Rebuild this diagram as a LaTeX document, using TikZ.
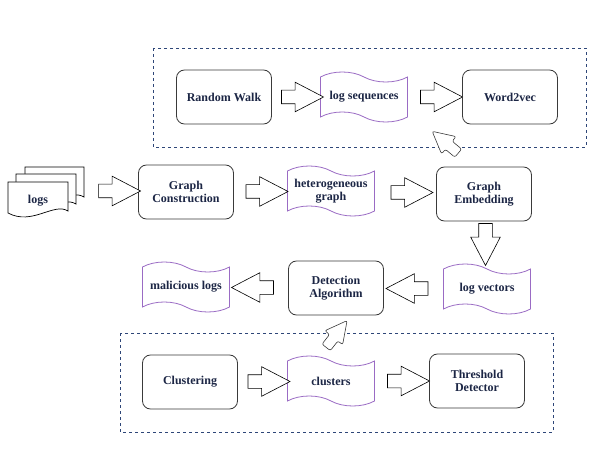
\documentclass[tikz,border=0pt]{standalone}
\usepackage{fontspec}
\setmainfont{Liberation Serif}
\usetikzlibrary{positioning,calc,shapes.symbols,shapes.arrows}
\definecolor{inkblue}{HTML}{1C2645}
\definecolor{framenavy}{HTML}{2E4678}
\definecolor{tapepurple}{HTML}{9A6BC4}
\definecolor{boxgray}{HTML}{3A3A3A}

\tikzset{
  procbox/.style={draw=boxgray, line width=0.8pt, rounded corners=8pt, fill=white,
    minimum width=95pt, minimum height=54pt, align=center, text=inkblue,
    font=\fontsize{12}{13}\selectfont\bfseries},
  tapebox/.style={tape, draw=tapepurple, line width=0.8pt, fill=white,
    tape bend top=out and in, tape bend bottom=out and in, tape bend height=10pt,
    minimum width=87pt, minimum height=50pt, align=center, text=inkblue, inner sep=1pt,
    font=\fontsize{12}{13}\selectfont\bfseries},
  blockarrow/.style={single arrow, draw=black, line width=0.6pt, fill=white,
    minimum height=42pt, minimum width=29pt, inner sep=6.5pt,
    single arrow head extend=8pt, single arrow tip angle=55},
  smallarrow/.style={blockarrow, minimum height=34pt, minimum width=22pt, inner sep=5pt,
    single arrow head extend=6pt, rounded corners=2pt, draw=boxgray},
  groupframe/.style={draw=framenavy, dashed, line width=0.8pt},
  pagesheet/.style={draw=black, line width=0.7pt, fill=white}
}

\begin{document}
\begin{tikzpicture}[x=1pt, y=-1pt]
  \useasboundingbox (0,0) rectangle (595,476);

  % Dashed groups
  \draw[groupframe] (153,48) rectangle (586,147);
  \draw[groupframe] (120,333) rectangle (553,432);

  % Row 1: embedding by random walk
  \node[procbox] (rw)   at (224,97)   {Random Walk};
  \node[tapebox] (lseq) at (364,97)   {log sequences};
  \node[procbox] (w2v)  at (510,97)   {Word2vec};

  % Row 2: graph building
  \draw[pagesheet] (25,167) -- (84,167) -- (84,197) .. controls (70,188) and (48,212) .. (25,199) -- cycle;
  \draw[pagesheet] (16,174) -- (76,174) -- (76,204) .. controls (62,195) and (40,219) .. (16,206) -- cycle;
  \draw[pagesheet] (8,182) -- (68,182) -- (68,211) .. controls (54,202) and (32,226) .. (8,213) -- cycle;
  \node[text=inkblue, font=\fontsize{12}{13}\selectfont\bfseries] (logs) at (38,201) {logs};
  \coordinate (logs-e) at (88,190);

  \node[procbox] (gc) at (186,192)   {Graph\\Construction};
  \node[tapebox] (hg) at (331,191)   {heterogeneous\\graph};
  \node[procbox] (ge) at (484,194)   {Graph\\Embedding};

  % Row 3: detection
  \node[tapebox] (lv) at (487,289)   {log vectors};
  \node[procbox] (da) at (336,288)   {Detection\\Algorithm};
  \node[tapebox] (ml) at (186,287)   {malicious logs};

  % Row 4: clustering group
  \node[procbox] (cl) at (190,382)   {Clustering};
  \node[tapebox] (cs) at (331,381)   {clusters};
  \node[procbox] (td) at (477,381)   {Threshold\\Detector};

  % Block arrows
  \node[blockarrow] (a1) at ($(rw.east)!0.5!(lseq.west)$) {};
  \node[blockarrow] (a2) at ($(lseq.east)!0.5!(w2v.west)$) {};
  \node[smallarrow, rotate=140] (a3) at ($(w2v.south west)!0.5!(ge.north west)$) {};
  \node[blockarrow] (a4) at ($(logs-e)!0.5!(gc.west)$) {};
  \node[blockarrow] (a5) at ($(gc.east)!0.5!(hg.west)$) {};
  \node[blockarrow] (a6) at ($(hg.east)!0.5!(ge.west)$) {};
  \node[blockarrow, shape border rotate=270] (a7) at ($(ge.south)!0.5!(lv.north)+(0,-7)$) {};
  \node[blockarrow, shape border rotate=180] (a8) at ($(lv.west)!0.5!(da.east)$) {};
  \node[blockarrow, shape border rotate=180] (a9) at ($(da.west)!0.5!(ml.east)$) {};
  \node[smallarrow, rotate=52] (a10) at ($(cs.north)!0.5!(da.south)$) {};
  \node[blockarrow] (a11) at ($(cl.east)!0.5!(cs.west)$) {};
  \node[blockarrow] (a12) at ($(cs.east)!0.5!(td.west)$) {};
\end{tikzpicture}
\end{document}
